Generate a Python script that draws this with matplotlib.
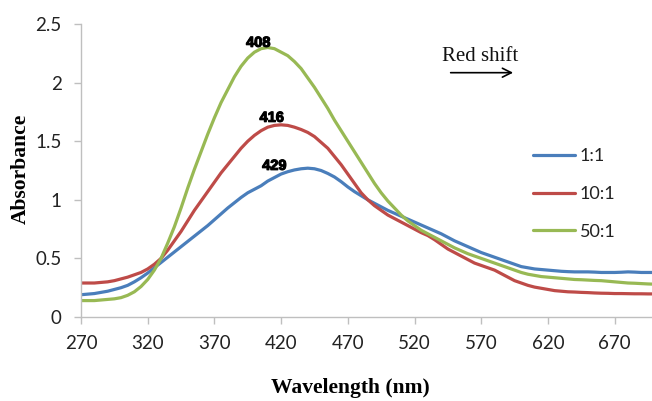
import matplotlib.pyplot as plt
import matplotlib.patheffects as pe
import numpy as np

# Datos (longitud de onda en nm, absorbancia), cada 5 nm
wavelength = np.arange(270, 701, 5)

abs_1_1 = [0.19, 0.195, 0.20, 0.21, 0.22, 0.235, 0.25, 0.27, 0.30, 0.335,
           0.375, 0.42, 0.465, 0.51, 0.555, 0.60, 0.645, 0.69, 0.735, 0.78,
           0.83, 0.88, 0.93, 0.975, 1.02, 1.06, 1.09, 1.12, 1.16, 1.19,
           1.22, 1.24, 1.255, 1.265, 1.27, 1.265, 1.25, 1.225, 1.195, 1.155,
           1.11, 1.07, 1.035, 1.00, 0.97, 0.94, 0.91, 0.885, 0.86, 0.835,
           0.81, 0.785, 0.76, 0.735, 0.71, 0.68, 0.65, 0.625, 0.60, 0.575,
           0.55, 0.53, 0.51, 0.49, 0.47, 0.45, 0.43, 0.42, 0.41, 0.405,
           0.40, 0.395, 0.39, 0.387, 0.385, 0.385, 0.385, 0.383, 0.38, 0.38,
           0.38, 0.382, 0.385, 0.383, 0.38, 0.38, 0.38]

abs_10_1 = [0.29, 0.29, 0.29, 0.295, 0.30, 0.31, 0.325, 0.34, 0.36, 0.38,
            0.41, 0.45, 0.50, 0.57, 0.65, 0.73, 0.82, 0.91, 0.99, 1.07,
            1.15, 1.23, 1.30, 1.37, 1.44, 1.50, 1.55, 1.59, 1.62, 1.635,
            1.64, 1.635, 1.62, 1.60, 1.575, 1.54, 1.49, 1.44, 1.37, 1.30,
            1.22, 1.14, 1.06, 1.00, 0.95, 0.91, 0.87, 0.84, 0.81, 0.78,
            0.75, 0.72, 0.695, 0.66, 0.62, 0.58, 0.55, 0.52, 0.49, 0.46,
            0.44, 0.42, 0.40, 0.37, 0.34, 0.31, 0.29, 0.27, 0.255, 0.245,
            0.235, 0.225, 0.22, 0.215, 0.213, 0.21, 0.208, 0.205, 0.203, 0.202,
            0.20, 0.20, 0.199, 0.198, 0.198, 0.197, 0.197]

abs_50_1 = [0.14, 0.14, 0.14, 0.145, 0.15, 0.155, 0.165, 0.185, 0.215, 0.26,
            0.32, 0.40, 0.50, 0.63, 0.77, 0.93, 1.10, 1.26, 1.41, 1.56,
            1.70, 1.83, 1.94, 2.05, 2.14, 2.21, 2.26, 2.29, 2.30, 2.29,
            2.26, 2.23, 2.18, 2.12, 2.04, 1.96, 1.87, 1.78, 1.68, 1.59,
            1.50, 1.41, 1.32, 1.23, 1.14, 1.06, 0.99, 0.93, 0.87, 0.82,
            0.78, 0.74, 0.71, 0.68, 0.65, 0.62, 0.59, 0.565, 0.54, 0.52,
            0.50, 0.48, 0.46, 0.44, 0.42, 0.40, 0.38, 0.365, 0.355, 0.345,
            0.34, 0.335, 0.33, 0.325, 0.32, 0.318, 0.315, 0.312, 0.31, 0.305,
            0.30, 0.295, 0.29, 0.288, 0.285, 0.282, 0.28]

series_names = ['1:1', '10:1', '50:1']
series_colors = ['#4A7EBB', '#BE4B48', '#98B954']

peak_labels = ['429', '416', '408']
peak_pos = [(415, 1.29), (413, 1.70), (403, 2.34)]

x_ticks = np.arange(270, 671, 50)
y_ticks = [0, 0.5, 1, 1.5, 2, 2.5]

fig = plt.figure(figsize=(6.52, 4.01), dpi=100)
ax = fig.add_axes([0.1242, 0.2095, 0.8758, 0.7305])

for vals, name, col in zip([abs_1_1, abs_10_1, abs_50_1], series_names, series_colors):
    ax.plot(wavelength, vals, color=col, linewidth=2.3, label=name,
            solid_capstyle='round', solid_joinstyle='round')

# Etiquetas de los máximos
for txt, (px, py) in zip(peak_labels, peak_pos):
    ax.text(px, py, txt, ha='center', va='center', fontsize=10.5,
            fontweight='bold', family='Liberation Sans', color='black',
            path_effects=[pe.withStroke(linewidth=0.8, foreground='black')])

# Flecha de desplazamiento al rojo
ax.annotate('', xy=(596, 2.085), xytext=(545, 2.085),
            arrowprops=dict(arrowstyle='->', color='black', lw=1.2,
                            mutation_scale=16))
ax.text(569, 2.22, 'Red shift', ha='center', va='center', fontsize=15,
        family='Liberation Serif', color='#111111')

ax.set_xlim(270, 698)
ax.set_ylim(0, 2.5)
ax.set_xticks(x_ticks)
ax.set_yticks(y_ticks)
ax.set_yticklabels(['0', '0.5', '1', '1.5', '2', '2.5'])

for s in ['top', 'right']:
    ax.spines[s].set_visible(False)
for s in ['left', 'bottom']:
    ax.spines[s].set_color('#BFBFBF')
    ax.spines[s].set_linewidth(1.0)

ax.tick_params(axis='both', direction='out', length=5, width=1,
               color='#BFBFBF', labelsize=13.5, labelcolor='#222222')
ax.tick_params(axis='x', pad=8)
ax.tick_params(axis='y', pad=9)
for lab in ax.get_xticklabels() + ax.get_yticklabels():
    lab.set_family('Lato')

ax.set_xlabel('Wavelength (nm)', fontsize=15.5, fontweight='bold',
              family='Liberation Serif')
ax.set_ylabel('Absorbance', fontsize=15.5, fontweight='bold',
              family='Liberation Serif')
ax.xaxis.set_label_coords(0.471, -0.207)
ax.yaxis.set_label_coords(-0.088, 0.505)

leg = ax.legend(loc='upper left', bbox_to_anchor=(0.779, 0.60), frameon=False,
                prop={'family': 'Lato', 'size': 13}, handlelength=2.3,
                labelspacing=1.2, handletextpad=0.3, borderaxespad=0)
for t in leg.get_texts():
    t.set_color('#222222')

fig.savefig('out.png', dpi=100)
